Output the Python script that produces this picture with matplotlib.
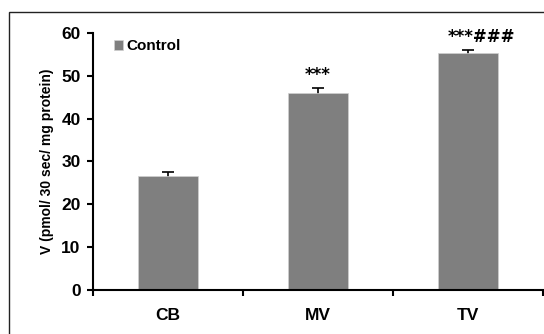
import matplotlib.pyplot as plt
from matplotlib.patches import Rectangle

plt.rcParams['font.family'] = ['Liberation Sans', 'DejaVu Sans']
plt.rcParams['font.weight'] = 'bold'

groups = ['CB', 'MV', 'TV']
values = [26.5, 46.1, 55.3]
errors = [1.0, 1.0, 0.8]
marks = ['', '***', '***###']
yticks = [0, 10, 20, 30, 40, 50, 60]

fig = plt.figure(figsize=(5.44, 3.34), dpi=100)
ax = fig.add_axes([0.171, 0.132, 0.827, 0.769])

# outer frame (cut off on the right and bottom)
fig.patches.append(Rectangle((9 / 544, -0.1), 1.2, 1.1 - 12 / 334, transform=fig.transFigure,
                             fill=False, edgecolor='#222222', linewidth=1.0))

x = range(len(groups))
ax.bar(x, values, width=0.4, color='#7f7f7f', edgecolor='#d0d0d0', linewidth=0.5, label='Control', zorder=2)
# lower half of the error bar sits behind the bar
ax.errorbar(x, values, yerr=errors, fmt='none', ecolor='black', elinewidth=1.2, capsize=4, capthick=1.2, zorder=1)

offsets = [0, 0, 0.09]
for i, m in enumerate(marks):
    if m:
        ax.text(i + offsets[i], values[i] + errors[i] + 3.0, m, ha='center', va='center', fontsize=12,
                fontweight='bold', family=['DejaVu Sans'])

ax.set_xlim(-0.5, 2.5)
ax.set_ylim(0, 60)
ax.set_yticks(yticks)
ax.set_xticks(list(x))
ax.set_xticklabels(groups, fontsize=12.5, fontweight='bold')
ax.set_xticks([-0.5, 0.5, 1.5, 2.5], minor=True)
ax.tick_params(axis='x', which='major', length=0, pad=13)
ax.tick_params(axis='x', which='minor', length=4, width=1.5, direction='out')
ax.tick_params(axis='y', length=4, width=1.5, direction='out', labelsize=12.5, pad=5)
for lab in ax.get_yticklabels():
    lab.set_fontweight('bold')

for s in ['top', 'right']:
    ax.spines[s].set_visible(False)
ax.spines['left'].set_linewidth(1.5)
ax.spines['bottom'].set_linewidth(1.5)

ax.set_ylabel('V (pmol/ 30 sec/ mg protein)', fontsize=10, fontweight='bold', labelpad=5)

ax.legend(loc='upper left', bbox_to_anchor=(0.015, 1.03), frameon=False, handlelength=0.6, handleheight=0.6,
          handletextpad=0.25, prop={'size': 11, 'weight': 'bold'})

fig.savefig('out.png', dpi=100)
